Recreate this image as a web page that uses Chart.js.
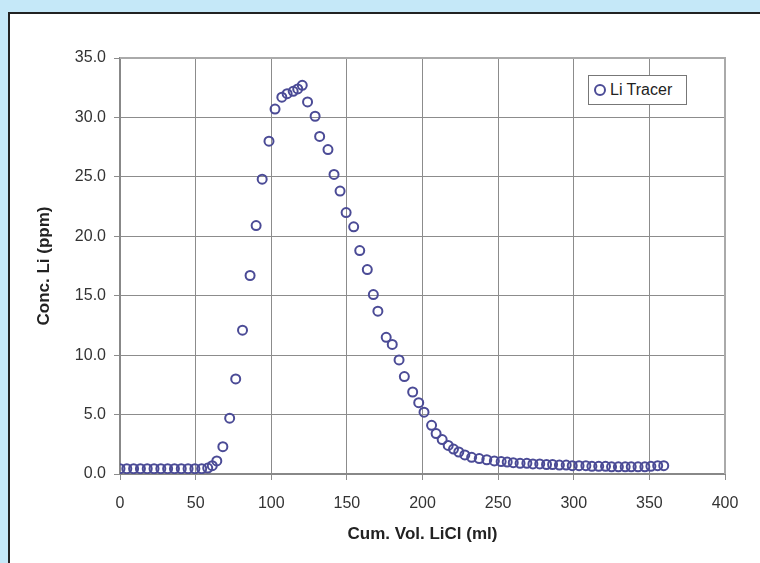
<!DOCTYPE html>
<html>
<head>
<meta charset="utf-8">
<script src="https://cdn.jsdelivr.net/npm/chart.js@4"></script>
<style>
  html, body { margin: 0; padding: 0; }
  body { width: 760px; height: 563px; background: #c5e8f8; position: relative; overflow: hidden; }
  #panel { position: absolute; left: 8px; top: 12px; width: 800px; height: 600px; background: #fff;
           border-top: 2px solid #222; border-left: 2px solid #222; }
  #wrap { position: absolute; left: 0; top: 0; width: 760px; height: 563px; }
  #legend { position: absolute; left: 588px; top: 75px; width: 97px; height: 28px; border: 1px solid #777;
            background: #fff; font: 16px "Liberation Sans", Arial, sans-serif; color: #222;
            display: flex; align-items: center; white-space: nowrap; }
  #legend span.dot { display: inline-block; width: 8px; height: 8px; border: 2px solid #4b4b96;
                     border-radius: 50%; margin: 0 4px 0 5px; }
</style>
</head>
<body>
<div id="panel"></div>
<div id="wrap"><canvas id="chart" width="760" height="563"></canvas></div>
<div id="legend"><span class="dot"></span>Li Tracer</div>
<script>
const seriesName = 'Li Tracer'
const xTitle = 'Cum. Vol. LiCl (ml)'
const yTitle = 'Conc. Li (ppm)'

// cumulative volume (ml)
const volumes = [
  0, 4.5, 9, 13.5, 18, 22.5, 27, 31.5, 36, 40.5, 45, 49.5, 54, 58,
  61, 64, 68, 72.5, 76.5, 81, 86, 90, 94, 98.5,
  102.5, 107, 110.5, 114.5, 117.5, 120.5, 124, 129, 132, 137.5,
  141.5, 145.5, 149.5, 154.5, 158.5, 163.5, 167.5, 170.5, 176, 180,
  184.5, 188, 193.5, 197.5, 201, 206, 209, 213, 217, 220.5,
  224, 228, 232.5, 237.5, 242.5, 247.5, 252, 256, 260, 264.5,
  269, 273, 277.5, 282, 286, 290.5, 295, 299, 303.5, 308,
  312, 316.5, 321, 325, 329.5, 334, 338, 342.5, 347, 351, 355.5, 359.5
]
// Li concentration (ppm)
const conc = [
  0.45, 0.45, 0.45, 0.45, 0.45, 0.45, 0.45, 0.45, 0.45, 0.45, 0.45, 0.45, 0.45, 0.5,
  0.7, 1.1, 2.3, 4.7, 8.0, 12.1, 16.7, 20.9, 24.8, 28.0,
  30.7, 31.7, 32.0, 32.2, 32.4, 32.7, 31.3, 30.1, 28.4, 27.3,
  25.2, 23.8, 22.0, 20.8, 18.8, 17.2, 15.1, 13.7, 11.5, 10.9,
  9.6, 8.2, 6.9, 6.0, 5.2, 4.1, 3.4, 2.9, 2.4, 2.1,
  1.85, 1.6, 1.4, 1.3, 1.2, 1.1, 1.05, 1.0, 0.95, 0.9,
  0.9, 0.85, 0.85, 0.8, 0.8, 0.75, 0.75, 0.7, 0.7, 0.7,
  0.65, 0.65, 0.65, 0.6, 0.6, 0.6, 0.6, 0.6, 0.6, 0.65, 0.7, 0.7
]

const points = volumes.map((v, i) => ({ x: v, y: conc[i] }))
const font = '"Liberation Sans", Arial, sans-serif'

const ctx = document.getElementById('chart').getContext('2d')
new Chart(ctx, {
  type: 'scatter',
  data: {
    datasets: [{
      label: seriesName,
      data: points,
      pointStyle: 'circle',
      pointRadius: 4.5,
      pointBorderWidth: 2,
      borderColor: '#4b4b96',
      backgroundColor: 'rgba(0,0,0,0)',
    }]
  },
  options: {
    responsive: false,
    animation: false,
    layout: { padding: { left: 30, top: 58, right: 35, bottom: 14 } },
    plugins: {
      legend: { display: false },
      tooltip: { enabled: false },
    },
    scales: {
      x: {
        type: 'linear',
        min: 0,
        max: 400,
        ticks: { stepSize: 50, color: '#333', padding: 14, font: { family: font, size: 16 } },
        grid: { color: '#8c8c8c', lineWidth: 1, tickLength: 6 },
        border: { color: '#888', width: 2 },
        title: { display: true, text: xTitle, color: '#222', padding: { top: 4, bottom: 4 }, font: { family: font, size: 17, weight: 'bold' } },
        afterFit: scale => { scale.height = 75 },
      },
      y: {
        type: 'linear',
        min: 0,
        max: 35,
        ticks: {
          stepSize: 5, color: '#333', padding: 8, font: { family: font, size: 16 },
          callback: v => v.toFixed(1),
        },
        grid: { color: '#8c8c8c', lineWidth: 1, tickLength: 6 },
        border: { color: '#888', width: 2 },
        title: { display: true, text: yTitle, color: '#222', padding: 4, font: { family: font, size: 17, weight: 'bold' } },
        afterFit: scale => { scale.width = 90 },
      }
    }
  },
  plugins: [{
    id: 'frame',
    afterDraw(chart) {
      const a = chart.chartArea
      const c = chart.ctx
      c.save()
      c.strokeStyle = '#aaa'
      c.lineWidth = 2
      c.beginPath()
      c.moveTo(a.left, a.top)
      c.lineTo(a.right, a.top)
      c.lineTo(a.right, a.bottom)
      c.stroke()
      c.restore()
    }
  }]
})
</script>
</body>
</html>
